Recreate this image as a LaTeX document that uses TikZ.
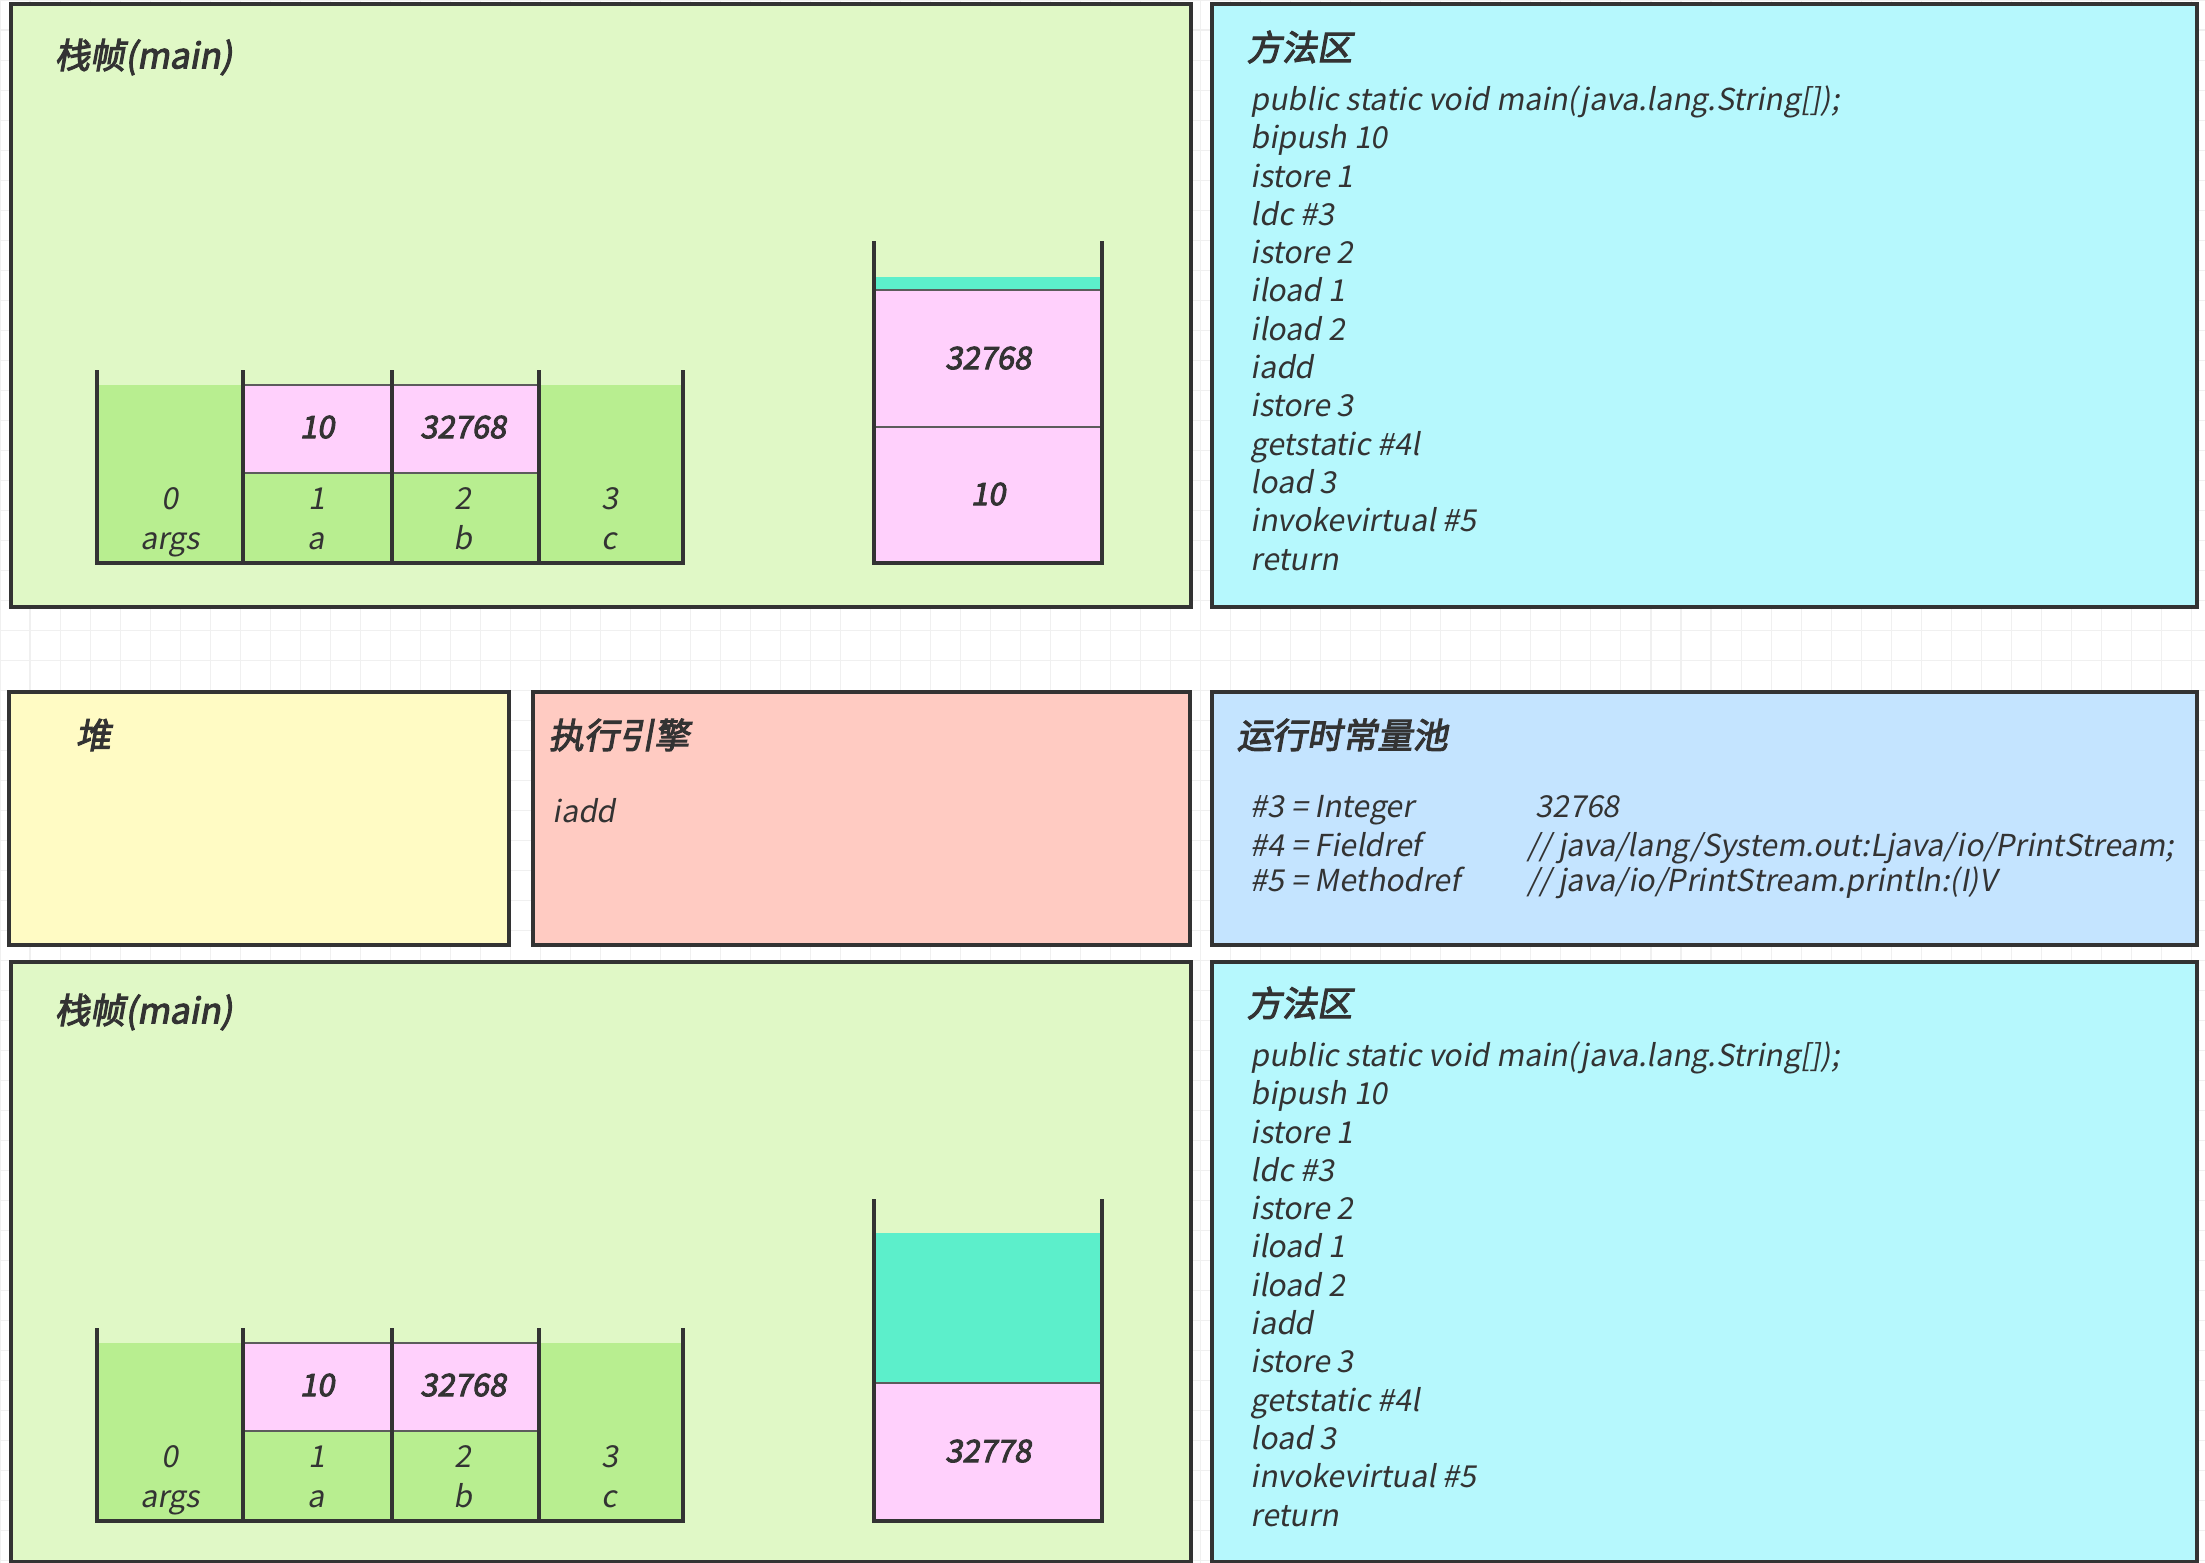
\documentclass[tikz,border=0pt]{standalone}
\usepackage{xcolor}
\usepackage{fontspec}
\newfontfamily\bodyfont{Noto Sans CJK SC}[FakeSlant=0.18]
\newfontfamily\titlefont{Noto Sans CJK SC}[FakeSlant=0.18,FakeBold=3]
\usetikzlibrary{positioning}

\definecolor{framegreen}{HTML}{E0F8C6}
\definecolor{slotgreen}{HTML}{B8EE90}
\definecolor{valpink}{HTML}{FFD0FC}
\definecolor{topteal}{HTML}{5CEFCB}
\definecolor{methodcyan}{HTML}{B6F8FD}
\definecolor{heapyellow}{HTML}{FFFBC4}
\definecolor{enginered}{HTML}{FFCBC2}
\definecolor{poolblue}{HTML}{C4E4FF}
\definecolor{inkgray}{HTML}{333333}

\tikzset{
  panel/.style={draw=inkgray, line width=0.9pt},
  wall/.style={draw=inkgray, line width=1.2pt},
  cell/.style={draw=inkgray!80, line width=0.5pt},
  title/.style={anchor=west, inner sep=0pt, text=inkgray,
    font=\titlefont\fontsize{10}{12}\selectfont},
  code/.style={anchor=west, inner sep=0pt, text=inkgray,
    text height=1.7ex, text depth=.45ex,
    font=\bodyfont\fontsize{8.6}{10}\selectfont},
  val/.style={inner sep=0pt, text=inkgray, text height=1.6ex, text depth=.4ex,
    font=\titlefont\fontsize{8.8}{10}\selectfont},
  idx/.style={inner sep=0pt, text=inkgray, text height=1.6ex, text depth=.4ex,
    font=\bodyfont\fontsize{8.6}{10}\selectfont}
}

\begin{document}
\begin{tikzpicture}[x=0.01cm, y=-0.01cm]
  \useasboundingbox (0,0) rectangle (2205,1563);
  \fill[white] (0,0) rectangle (2205,1563);
  \draw[black!6, line width=0.3pt, step=0.3cm] (0,0) grid (2205,1563);

  % panels
  \draw[panel, fill=framegreen] (11,4) rectangle (1191,607);
  \draw[panel, fill=methodcyan] (1212,4) rectangle (2197,607);
  \draw[panel, fill=heapyellow] (9,692) rectangle (509,945);
  \draw[panel, fill=enginered] (533,692) rectangle (1190,945);
  \draw[panel, fill=poolblue] (1212,692) rectangle (2197,945);
  \draw[panel, fill=framegreen] (11,962) rectangle (1191,1562);
  \draw[panel, fill=methodcyan] (1212,962) rectangle (2197,1562);

  \node[title] (frametop) at (54,57) {栈帧(main)};
  \node[title] (methodtop) at (1246,47) {方法区};
  \node[title] (heap) at (75,735) {堆};
  \node[title] (engine) at (548,735) {执行引擎};
  \node[title] (pool) at (1236,735) {运行时常量池};
  \node[title] (framebot) at (54,1012) {栈帧(main)};
  \node[title] (methodbot) at (1246,1003) {方法区};

  % method area
  \foreach \s/\y in {top/101, bot/1057}
    \foreach [count=\i from 0] \op in {public static void main(java.lang.String[]);,
        bipush 10, istore 1, ldc \#3, istore 2, iload 1, iload 2, iadd, istore 3,
        getstatic \#4l, load 3, invokevirtual \#5, return}
      \node[code] (op-\s-\i) at (1250,{\y+38.3*\i}) {\op};

  % engine and constant pool
  \node[code] (exec) at (552,813) {iadd};
  \node[code] (c3) at (1250,808) {\#3 = Integer};
  \node[code] (v3) at (1535,808) {32768};
  \node[code] (c4) at (1250,847) {\#4 = Fieldref};
  \node[code] (v4) at (1527,847) {// java/lang/System.out:Ljava/io/PrintStream;};
  \node[code] (c5) at (1250,882) {\#5 = Methodref};
  \node[code] (v5) at (1527,882) {// java/io/PrintStream.println:(I)V};

  % operand stacks
  \fill[topteal] (874,277) rectangle (1102,290);
  \draw[cell, fill=valpink] (874,290) rectangle (1102,427);
  \draw[cell, fill=valpink] (874,427) rectangle (1102,563);
  \node[val] (stacktop1) at (988,360) {32768};
  \node[val] (stacktop0) at (988,496) {10};
  \fill[topteal] (874,1233) rectangle (1102,1383);
  \draw[cell, fill=valpink] (874,1383) rectangle (1102,1521);
  \node[val] (stackbot0) at (988,1453) {32778};

  % local variables
  \foreach \s/\dy in {top/0, bot/958} {
    \begin{scope}[shift={(0,\dy)}]
      \fill[slotgreen] (97,385) rectangle (243,563);
      \fill[slotgreen] (539,385) rectangle (683,563);
      \draw[cell, fill=slotgreen] (243,473) rectangle (539,563);
      \draw[cell, fill=valpink] (243,385) rectangle (539,473);
      \node[val] (slot-\s-1) at (317,429) {10};
      \node[val] (slot-\s-2) at (463,429) {32768};
      \foreach [count=\i from 0] \n in {args, a, b, c} {
        \node[idx] (idx-\s-\i) at ({170+146.5*\i},500) {\i};
        \node[idx] (var-\s-\i) at ({170+146.5*\i},540) {\n};
      }
      \draw[wall] (97,370) -- (97,563) -- (683,563) -- (683,370);
      \foreach \x in {243,392,539}
        \draw[wall] (\x,370) -- (\x,563);
      \draw[wall] (874,241) -- (874,563) -- (1102,563) -- (1102,241);
    \end{scope}
  }
\end{tikzpicture}
\end{document}
